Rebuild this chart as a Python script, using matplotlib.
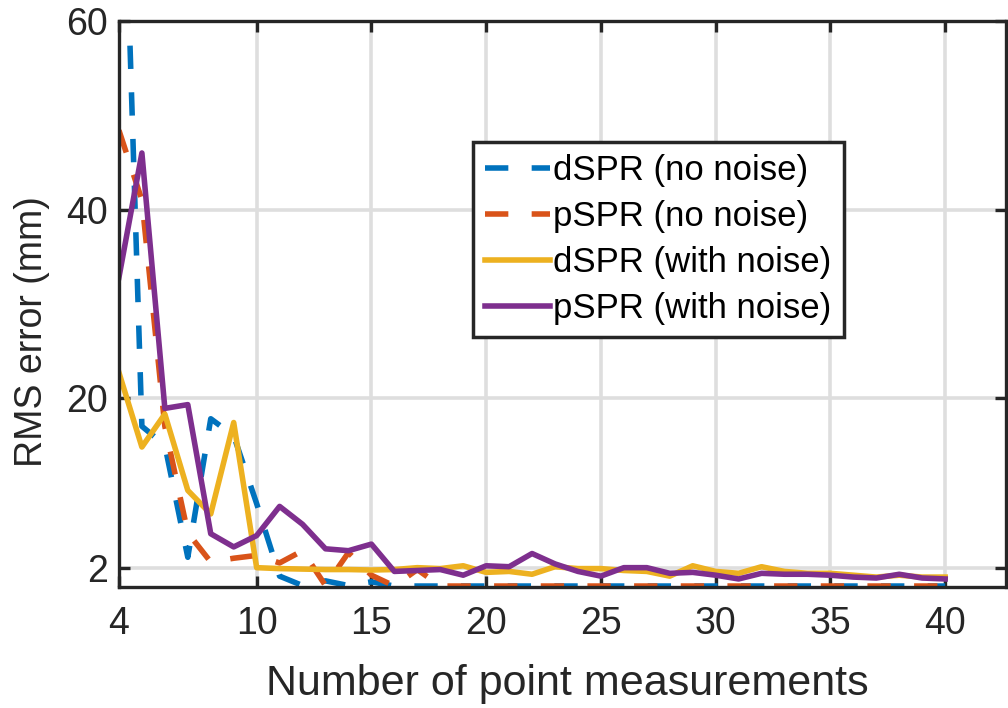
import matplotlib
matplotlib.use('Agg')
import matplotlib.pyplot as plt
import numpy as np

plt.rcParams['font.family'] = ['Liberation Sans', 'DejaVu Sans']

# number of point measurements
n_points = np.arange(4, 41)

# RMS error (mm)
dspr_clean = [95, 17, 15, 3.1, 17.8, 16, 8.8, 1.1, 0.1, 0.6, 0.1, 0.5, 0.05, 0.05,
              0.05, 0.05, 0.05, 0.05, 0.05, 0.05, 0.05, 0.05, 0.05, 0.05, 0.05,
              0.05, 0.05, 0.05, 0.05, 0.05, 0.05, 0.05, 0.05, 0.05, 0.05, 0.05, 0.05]
pspr_clean = [48.4, 41, 17, 5.7, 2.6, 3.0, 3.3, 2.5, 3.8, 0.1, 3.6, 1.2, 0.05, 1.8,
              0.05, 0.05, 0.05, 0.05, 0.05, 0.05, 0.05, 0.05, 0.05, 0.05, 0.05,
              0.05, 0.05, 0.05, 0.05, 0.05, 0.05, 0.05, 0.05, 0.05, 0.05, 0.05, 0.05]
dspr_noise = [22.7, 14.8, 18.3, 10.2, 7.7, 17.4, 2.0, 1.9, 1.85, 1.8, 1.8, 1.75, 1.8,
              2.0, 1.9, 2.2, 1.5, 1.6, 1.3, 2.1, 1.9, 1.9, 1.7, 1.6, 1.1, 2.2, 1.6,
              1.4, 2.1, 1.6, 1.4, 1.4, 1.2, 1.0, 1.2, 1.0, 1.0]
pspr_noise = [32.8, 46, 18.9, 19.3, 5.6, 4.2, 5.4, 8.5, 6.6, 4.0, 3.8, 4.5, 1.6, 1.7,
              1.8, 1.2, 2.2, 2.1, 3.5, 2.4, 1.6, 1.1, 2.0, 2.0, 1.4, 1.5, 1.2, 0.8,
              1.4, 1.3, 1.3, 1.2, 1.0, 0.9, 1.3, 0.9, 0.8]

labels = ['dSPR (no noise)', 'pSPR (no noise)', 'dSPR (with noise)', 'pSPR (with noise)']
colors = ['#0072BD', '#D95319', '#EDB120', '#7E2F8E']

x_ticks = [4, 10, 15, 20, 25, 30, 35, 40]
y_ticks = [2, 20, 40, 60]

fig = plt.figure(figsize=(10.08, 7.08), dpi=100)
ax = fig.add_axes([0.118, 0.1716, 0.880, 0.7987])

lw = 4.0
ax.plot(n_points, dspr_clean, color=colors[0], lw=lw, dashes=(4.2, 4.2), label=labels[0])
ax.plot(n_points, pspr_clean, color=colors[1], lw=lw, dashes=(4.2, 4.2), label=labels[1])
ax.plot(n_points, dspr_noise, color=colors[2], lw=lw, label=labels[2])
ax.plot(n_points, pspr_noise, color=colors[3], lw=lw, label=labels[3])

ax.set_xlim(4, 42.65)
ax.set_ylim(0, 60)
ax.set_xticks(x_ticks)
ax.set_yticks(y_ticks)
ax.grid(True, color='#dedede', lw=2.6)
ax.set_axisbelow(True)

dark = '#262626'
for s in ax.spines.values():
    s.set_linewidth(2.4)
    s.set_color(dark)
ax.tick_params(direction='in', length=8, width=2.4, color=dark,
               top=True, right=True, labelsize=27, labelcolor=dark)
ax.tick_params(axis='x', pad=14)
ax.tick_params(axis='y', pad=8)

ax.set_xlabel('Number of point measurements', fontsize=31, color=dark, va='center')
ax.xaxis.set_label_coords(0.505, -0.172)
ax.set_ylabel('RMS error (mm)', fontsize=27, color=dark, va='center')
ax.yaxis.set_label_coords(-0.098, 0.45)

leg = ax.legend(loc='upper left', bbox_to_anchor=(0.399, 0.786), borderaxespad=0,
                fontsize=25, handlelength=1.87, handletextpad=0.1, labelspacing=0.37,
                borderpad=0.35, fancybox=False, framealpha=1, edgecolor=dark)
leg.get_frame().set_linewidth(2.5)

fig.savefig('out.png', dpi=100)
